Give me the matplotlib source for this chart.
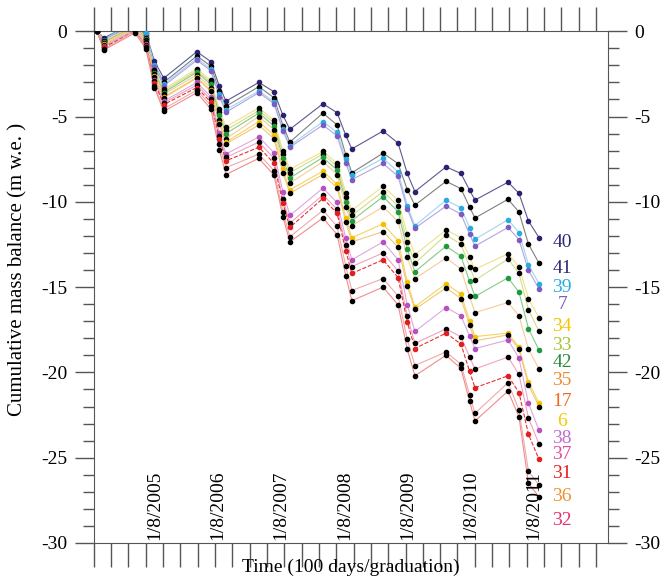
import numpy as np
import matplotlib
matplotlib.use("Agg")
import matplotlib.pyplot as plt
from matplotlib.ticker import MultipleLocator

plt.rcParams['font.family'] = ['Liberation Serif', 'DejaVu Serif']
plt.rcParams['axes.unicode_minus'] = False

# measurement dates, days since 14 Aug 2004
days = [17, 58,
        237, 300, 350, 404,
        595, 675, 725, 763,
        953, 1040, 1092, 1132,
        1323, 1405, 1455, 1490,
        1670, 1757, 1810, 1854,
        2034, 2120, 2170, 2201,
        2392, 2455, 2510, 2571]

# cumulative mass balance per stake (m w.e.)
stake40 = [0, -0.4, 0.55, -0.11, -1.76, -2.75, -1.2, -1.78, -3.23, -4.1, -3.0, -3.55, -4.93, -5.75,
           -4.25, -4.78, -6.11, -6.9, -5.85, -6.56, -8.34, -9.4, -7.95, -8.34, -9.32, -9.9, -8.85, -9.5, -11.13, -12.1]
stake41 = [0, -0.45, 0.45, -0.24, -1.97, -3.0, -1.45, -2.04, -3.52, -4.4, -3.25, -3.9, -5.53, -6.5,
           -4.8, -5.5, -7.25, -8.3, -7.15, -7.76, -9.29, -10.2, -8.8, -9.23, -10.31, -10.95, -9.85, -10.6, -12.48, -13.6]
stake39 = [0, -0.5, 0.65, -0.1, -1.98, -3.1, -1.6, -2.2, -3.7, -4.6, -3.5, -4.14, -5.74, -6.7,
           -5.3, -5.93, -7.51, -8.45, -7.45, -8.24, -10.22, -11.4, -9.9, -10.36, -11.51, -12.2, -11.05, -11.8, -13.68, -14.8]
stake7 = [0, -0.5, 0.4, -0.32, -2.12, -3.2, -1.7, -2.31, -3.84, -4.75, -3.6, -4.24, -5.84, -6.8,
          -5.5, -6.14, -7.74, -8.7, -7.75, -8.51, -10.41, -11.55, -10.25, -10.72, -11.9, -12.6, -11.5, -12.22, -14.02, -15.1]
stake34 = [0, -0.6, 0.35, -0.4, -2.28, -3.4, -2.2, -2.88, -4.58, -5.6, -4.5, -5.22, -7.02, -8.1,
           -7.05, -7.74, -9.47, -10.5, -9.1, -9.9, -11.9, -13.1, -11.65, -12.11, -13.26, -13.95, -13.05, -13.8, -15.68, -16.8]
stake33 = [0, -0.6, 0.3, -0.46, -2.36, -3.5, -2.3, -3.0, -4.75, -5.8, -4.65, -5.38, -7.21, -8.3,
           -7.2, -7.92, -9.72, -10.8, -9.4, -10.24, -12.34, -13.6, -11.95, -12.48, -13.81, -14.6, -13.35, -14.2, -16.33, -17.6]
stake42 = [0, -0.65, 0.3, -0.48, -2.43, -3.6, -2.4, -3.12, -4.92, -6.0, -4.8, -5.56, -7.46, -8.6,
           -7.4, -8.14, -9.99, -11.1, -9.7, -10.58, -12.78, -14.1, -12.6, -13.19, -14.67, -15.55, -14.45, -15.3, -17.43, -18.7]
stake35 = [0, -0.7, 0.25, -0.54, -2.52, -3.7, -2.55, -3.3, -5.18, -6.3, -5.0, -5.78, -7.73, -8.9,
           -7.65, -8.4, -10.28, -11.4, -10.3, -11.14, -13.24, -14.5, -13.3, -13.94, -15.54, -16.5, -15.9, -16.68, -18.63, -19.8]
stake17 = [0, -0.75, 0.2, -0.61, -2.64, -3.85, -2.7, -3.46, -5.36, -6.5, -5.3, -6.1, -8.1, -9.3,
           -8.2, -8.98, -10.93, -12.1, -11.3, -12.27, -14.7, -16.15, -14.8, -15.42, -16.97, -17.9, -17.7, -18.52, -20.57, -21.8]
stake6 = [0, -0.8, 0.2, -0.62, -2.67, -3.9, -2.75, -3.52, -5.45, -6.6, -5.5, -6.3, -8.3, -9.5,
          -8.4, -9.19, -11.17, -12.35, -11.75, -12.66, -14.94, -16.3, -15.05, -15.67, -17.22, -18.15, -17.8, -18.64, -20.74, -22.0]
stake38 = [0, -0.85, 0.1, -0.74, -2.84, -4.1, -3.0, -3.84, -5.94, -7.2, -6.2, -7.12, -9.42, -10.8,
           -9.2, -10.04, -12.14, -13.4, -12.35, -13.4, -16.03, -17.6, -16.2, -16.68, -17.88, -18.6, -18.1, -19.16, -21.81, -23.4]
stake37 = [0, -0.9, 0.05, -0.8, -2.93, -4.2, -3.15, -4.0, -6.13, -7.4, -6.5, -7.45, -9.83, -11.25,
           -9.6, -10.44, -12.54, -13.8, -13.0, -14.06, -16.71, -18.3, -17.45, -17.92, -19.1, -19.8, -19.1, -20.12, -22.67, -24.2]
stake31 = [0, -0.95, 0.0, -0.86, -3.01, -4.3, -3.3, -4.16, -6.31, -7.6, -6.8, -7.74, -10.09, -11.5,
           -9.8, -10.68, -12.88, -14.2, -13.4, -14.44, -17.04, -18.6, -17.7, -18.34, -19.94, -20.9, -20.2, -21.18, -23.63, -25.1]
stake36 = [0, -1.05, 0.0, -0.91, -3.19, -4.55, -3.45, -4.36, -6.64, -8.0, -7.2, -8.17, -10.6, -12.05,
           -10.5, -11.44, -13.79, -15.2, -14.5, -15.52, -18.07, -19.6, -18.8, -19.52, -21.32, -22.4, -20.6, -22.2, -25.8, -26.6]
stake32 = [0, -1.1, -0.1, -1.02, -3.32, -4.7, -3.6, -4.56, -6.96, -8.4, -7.45, -8.43, -10.88, -12.35,
           -10.95, -11.92, -14.35, -15.8, -15.0, -16.04, -18.64, -20.2, -19.0, -19.77, -21.7, -22.85, -21.1, -22.6, -26.5, -27.3]

stake_names = ['40', '41', '39', '7', '34', '33', '42', '35', '17', '6', '38', '37', '31', '36', '32']
stake_values = [stake40, stake41, stake39, stake7, stake34, stake33, stake42, stake35,
                stake17, stake6, stake38, stake37, stake31, stake36, stake32]
line_colors = ['#5a5a90', '#808080', '#9ed6f2', '#b4a4de', '#f2e08a', '#cde08a', '#88c888', '#f6cc98',
               '#f5d460', '#f0c878', '#dcaadc', '#f4a0c0', '#e83030', '#f2a8a8', '#f08c8c']
marker_colors = ['#2b2170', 'black', '#29abe2', '#7b5cc4', 'black', 'black', '#1f9a3a', 'black',
                 '#f5c000', 'black', '#b850c0', 'black', '#e02020', 'black', 'black']
label_colors = ['#2e2a7a', '#2e2a7a', '#29abe2', '#7b5cc4', '#f5c400', '#a8c43a', '#2e8b3e', '#f08a30',
                '#ee6a20', '#f5c800', '#c070c8', '#e04aa0', '#e82020', '#f09030', '#e8306a']
label_y = [-12.4, -13.9, -15.0, -16.0, -17.3, -18.4, -19.4, -20.5, -21.7, -22.9, -23.9, -24.8, -25.9, -27.3, -28.7]

year_labels = ['1/8/2005', '1/8/2006', '1/8/2007', '1/8/2008', '1/8/2009', '1/8/2010', '1/8/2011']
year_days = [352, 717, 1082, 1448, 1813, 2178, 2543]

fig = plt.figure(figsize=(6.61, 5.78), dpi=100)
ax = fig.add_axes([0.142, 0.0606, 0.778, 0.8854])

for name, vals, lc, mc in zip(stake_names, stake_values, line_colors, marker_colors):
    ls = '--' if name == '31' else '-'
    ax.plot(days, vals, color=lc, lw=0.8, ls=ls, zorder=2)
    ax.plot(days, vals, ls='none', marker='o', ms=3, color=mc, zorder=3)

for name, y, c in zip(stake_names, label_y, label_colors):
    ax.text(2705, y, name, color=c, fontsize=14, ha='center', va='center')

for lab, d in zip(year_labels, year_days):
    ax.text(d, -29.8, lab, rotation=90, ha='center', va='bottom', fontsize=14)

ax.set_xlim(0, 2970)
ax.set_ylim(-30, 0)
ax.xaxis.set_major_locator(MultipleLocator(100))
ax.yaxis.set_major_locator(MultipleLocator(5))
ax.yaxis.set_minor_locator(MultipleLocator(1))
ax.set_xticklabels([])
ax.tick_params(axis='x', which='major', direction='out', length=17, width=1, color='#555555',
               top=True, bottom=True)
ax.tick_params(axis='y', which='major', direction='out', length=14, width=1, color='#555555',
               left=True, right=True, labelleft=True, labelright=True, labelsize=14, pad=5)
ax.tick_params(axis='y', which='minor', direction='out', length=8, width=1, color='#555555',
               left=True, right=True)
for s in ax.spines.values():
    s.set_color('#555555')

ax.set_ylabel('Cumulative mass balance (m w.e. )', fontsize=15, va='center')
ax.yaxis.set_label_coords(-0.148, 0.535)
ax.set_xlabel('Time (100 days/graduation)', fontsize=14, va='center')
ax.xaxis.set_label_coords(0.5, -0.047)

fig.savefig('out.png', dpi=100)
